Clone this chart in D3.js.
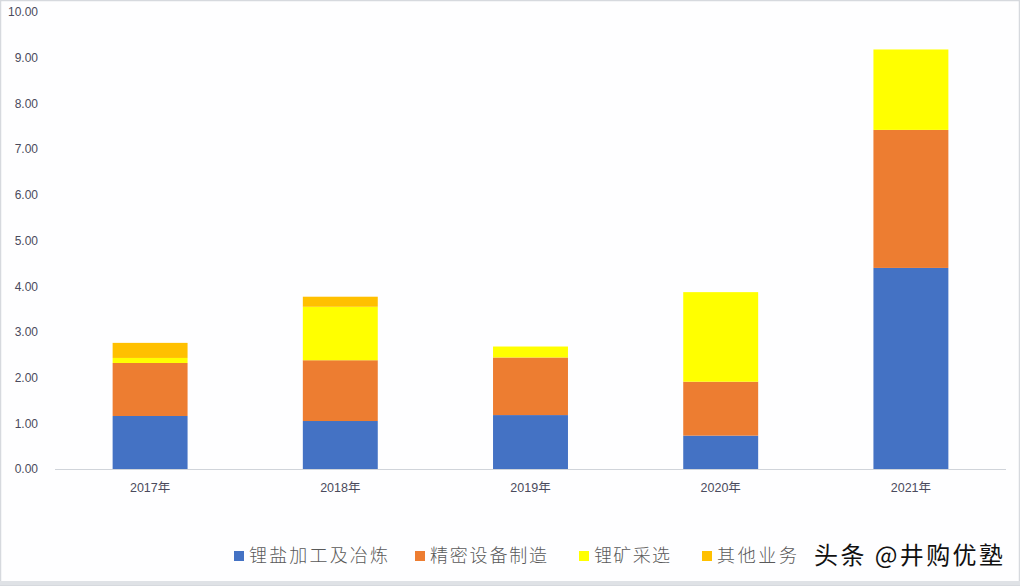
<!DOCTYPE html>
<html><head><meta charset="utf-8">
<script src="https://cdn.jsdelivr.net/npm/d3@7/dist/d3.min.js"></script>
<style>body{margin:0;background:#fff;}svg{display:block;}</style>
</head><body>
<svg id="chart" width="1020" height="586"></svg>
<script>
const categories = ["2017年","2018年","2019年","2020年","2021年"];
const seriesNames = ["锂盐加工及冶炼","精密设备制造","锂矿采选","其他业务"];
const lithiumSalt = [1.16, 1.05, 1.18, 0.73, 4.40];
const equipment   = [1.16, 1.33, 1.26, 1.18, 3.02];
const lithiumMine = [0.11, 1.17, 0.24, 1.96, 1.76];
const otherBiz    = [0.33, 0.22, 0.00, 0.00, 0.00];
const yTicks = [0,1,2,3,4,5,6,7,8,9,10];
const colors = ["#4472C4","#ED7D31","#FFFF00","#FFC000"];

const svg = d3.select("#chart");
svg.append("rect").attr("x",0.5).attr("y",0.5).attr("width",1019).attr("height",585)
  .attr("fill","#fefeff").attr("stroke","#d6d9de").attr("stroke-width",1.5);
svg.append("line").attr("x1",0).attr("x2",1020).attr("y1",583).attr("y2",583)
  .attr("stroke","#dfe2e6").attr("stroke-width",4);

const x = d3.scaleBand().domain(categories).range([55,1006]).paddingInner(0.606).paddingOuter(0.303);
const y = d3.scaleLinear().domain([0,10]).range([469,12]);

const rows = categories.map((c,i)=>({cat:c, s0:lithiumSalt[i], s1:equipment[i], s2:lithiumMine[i], s3:otherBiz[i]}));
const stack = d3.stack().keys(["s0","s1","s2","s3"])(rows);

svg.append("g").selectAll("g").data(stack).join("g")
  .attr("fill",(d,i)=>colors[i])
  .selectAll("rect").data(d=>d.filter(p=>p[1]-p[0]>0)).join("rect")
  .attr("x",d=>x(d.data.cat)).attr("width",x.bandwidth())
  .attr("y",d=>y(d[1])).attr("height",d=>y(d[0])-y(d[1]));

// y axis labels
const yAxis = d3.axisLeft(y).tickValues(yTicks).tickFormat(d3.format(".2f")).tickSize(0).tickPadding(0);
const gy = svg.append("g").attr("transform","translate(38,0)").call(yAxis);
gy.select(".domain").remove();
gy.selectAll("text").attr("font-family","Liberation Sans, Arial, sans-serif").attr("font-size",12).attr("fill","#4a4a5c");

// x axis
const xAxis = d3.axisBottom(x).tickSize(0).tickPadding(14);
const gx = svg.append("g").attr("transform","translate(0,469)").call(xAxis);
gx.select(".domain").attr("stroke","#d0d4da").attr("stroke-width",1.2).attr("d","M55,0.5H1006");
gx.selectAll("text").attr("font-family","Liberation Sans, 'Noto Sans CJK SC', sans-serif").attr("font-size",12.5).attr("fill","#4a4a5c");

// legend
const legendX = [234, 415, 579, 702];
const legendW = [139, 117, 76, 80];
const lg = svg.append("g").attr("transform","translate(0,556)");
seriesNames.forEach((n,i)=>{
  lg.append("rect").attr("x",legendX[i]).attr("y",-5).attr("width",10).attr("height",10).attr("fill",colors[i]);
  lg.append("text").attr("x",legendX[i]+15).attr("y",0).attr("dy","0.35em")
    .attr("font-family","'Noto Sans CJK SC', sans-serif").attr("font-size",18).attr("font-weight",300)
    .attr("fill","#595959").attr("textLength",legendW[i]).attr("lengthAdjust","spacing").text(n);
});

// watermark
svg.append("text").attr("x",814).attr("y",556).attr("dy","0.35em")
  .attr("font-family","'Noto Sans CJK SC', sans-serif").attr("font-size",24)
  .attr("fill","#111").attr("textLength",189).attr("lengthAdjust","spacing").text("头条 @井购优塾");
</script>
</body></html>
